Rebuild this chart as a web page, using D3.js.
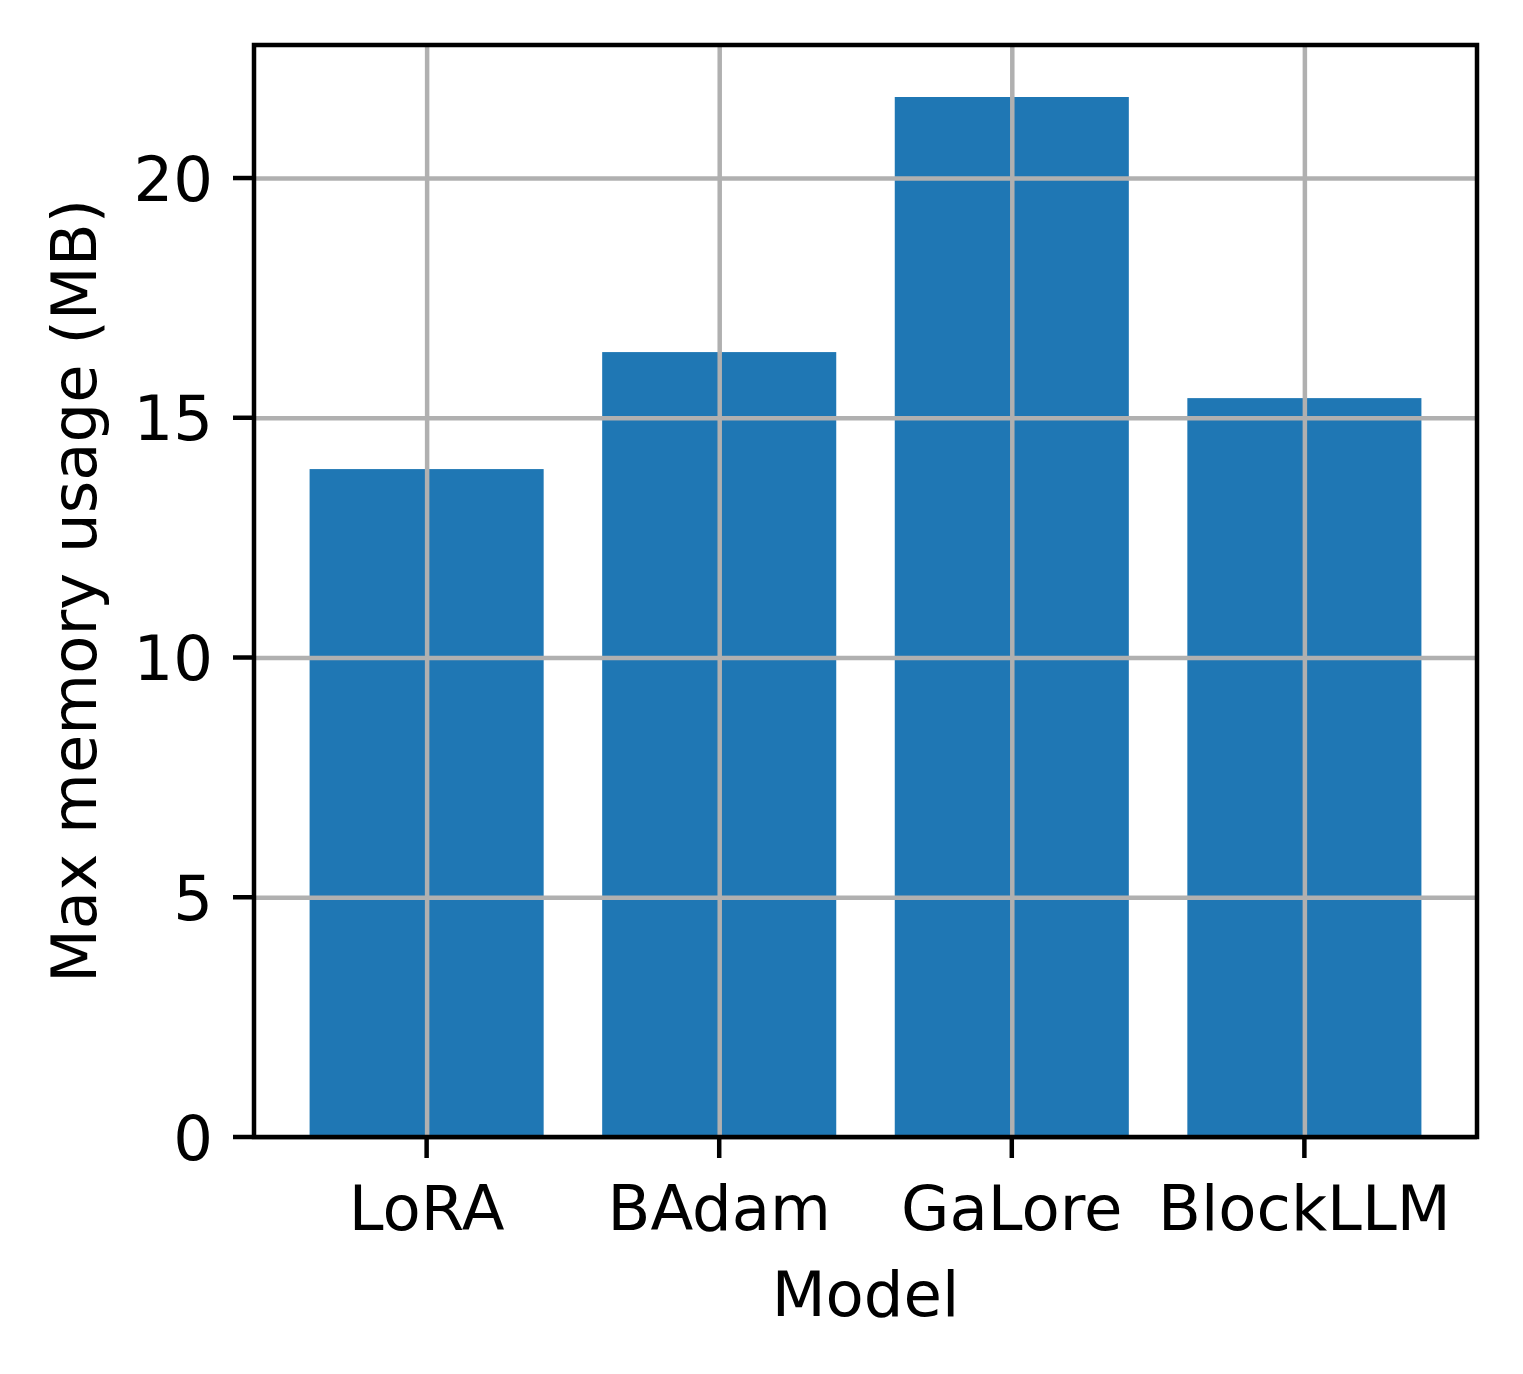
<!DOCTYPE html>
<html>
<head>
<meta charset="utf-8">
<script src="https://cdn.jsdelivr.net/npm/d3@7"></script>
<style>
  body { margin: 0; background: #fff; }
  text { font-family: "DejaVu Sans", sans-serif; fill: #000; }
</style>
</head>
<body>
<svg id="chart" width="1523" height="1374"></svg>
<script>
const models = ['LoRA', 'BAdam', 'GaLore', 'BlockLLM']
const memory = [13.93, 16.37, 21.69, 15.41]
const yTicks = [0, 5, 10, 15, 20]

const svg = d3.select('#chart')
const plotLeft = 254, plotRight = 1477, plotTop = 45, plotBottom = 1137
const fontSize = 62.5
const barColor = '#1f77b4'
const gridColor = '#b0b0b0'

// matplotlib style: bars 0.8 wide, 5% margins
const xScale = d3.scaleLinear()
  .domain([-0.4 - 0.19, models.length - 0.6 + 0.19])
  .range([plotLeft, plotRight])

const yMax = d3.max(memory) * 1.05
const yScale = d3.scaleLinear()
  .domain([0, yMax])
  .range([plotBottom, plotTop])

svg.append('rect')
  .attr('width', 1523).attr('height', 1374).attr('fill', '#fff')

// bars
svg.selectAll('rect.bar')
  .data(memory)
  .enter()
  .append('rect')
    .attr('class', 'bar')
    .attr('x', (d, i) => xScale(i - 0.4))
    .attr('width', (d, i) => xScale(i + 0.4) - xScale(i - 0.4))
    .attr('y', d => yScale(d))
    .attr('height', d => plotBottom - yScale(d))
    .attr('fill', barColor)

// grid on top of the bars
const xAxis = d3.axisBottom(xScale)
  .tickValues(d3.range(models.length))
  .tickFormat(i => models[i])
  .tickSize(-(plotBottom - plotTop))

const yAxis = d3.axisLeft(yScale)
  .tickValues(yTicks)
  .tickSize(-(plotRight - plotLeft))

svg.append('g')
  .attr('transform', `translate(0, ${plotBottom})`)
  .call(xAxis)
svg.append('g')
  .attr('transform', `translate(${plotLeft}, 0)`)
  .call(yAxis)

svg.selectAll('path.domain').remove()
svg.selectAll('.tick line')
  .attr('stroke', gridColor)
  .attr('stroke-width', 4.5)
svg.selectAll('.tick text').remove()

// tick marks and labels
const tickLen = 21
models.forEach((m, i) => {
  svg.append('line')
    .attr('x1', xScale(i)).attr('x2', xScale(i))
    .attr('y1', plotBottom).attr('y2', plotBottom + tickLen)
    .attr('stroke', '#000').attr('stroke-width', 4.5)
  svg.append('text')
    .attr('x', xScale(i))
    .attr('y', 1230)
    .attr('text-anchor', 'middle')
    .attr('font-size', fontSize + 'px')
    .text(m)
})

yTicks.forEach(t => {
  svg.append('line')
    .attr('x1', plotLeft - tickLen).attr('x2', plotLeft)
    .attr('y1', yScale(t)).attr('y2', yScale(t))
    .attr('stroke', '#000').attr('stroke-width', 4.5)
  svg.append('text')
    .attr('x', plotLeft - tickLen - 20)
    .attr('y', yScale(t))
    .attr('dy', '0.36em')
    .attr('text-anchor', 'end')
    .attr('font-size', fontSize + 'px')
    .text(t)
})

// frame
svg.append('rect')
  .attr('x', plotLeft).attr('y', plotTop)
  .attr('width', plotRight - plotLeft).attr('height', plotBottom - plotTop)
  .attr('fill', 'none')
  .attr('stroke', '#000')
  .attr('stroke-width', 4.5)

// axis titles
svg.append('text')
  .attr('x', (plotLeft + plotRight) / 2)
  .attr('y', 1316)
  .attr('text-anchor', 'middle')
  .attr('font-size', fontSize + 'px')
  .text('Model')

svg.append('text')
  .attr('transform', `translate(96, ${(plotTop + plotBottom) / 2}) rotate(-90)`)
  .attr('text-anchor', 'middle')
  .attr('font-size', fontSize + 'px')
  .text('Max memory usage (MB)')
</script>
</body>
</html>
